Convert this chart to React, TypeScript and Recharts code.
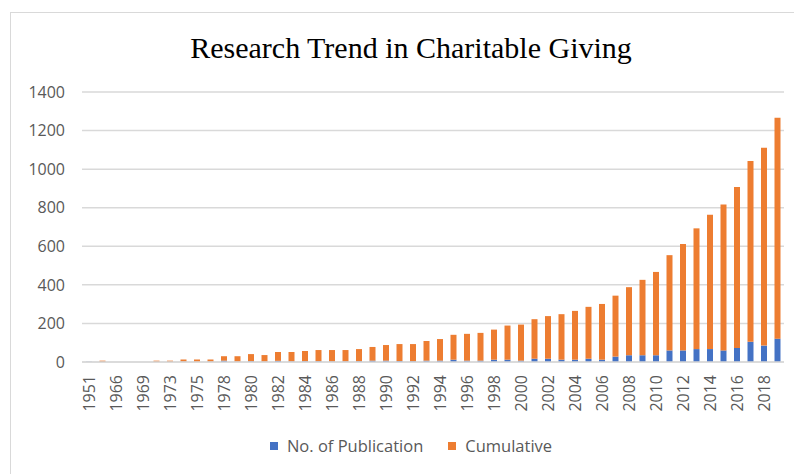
import React from 'react'
import { BarChart, Bar, XAxis, YAxis, CartesianGrid, Legend } from 'recharts'

// years on the category axis (every other one gets a label)
const years = [
  '1951', '1965', '1966', '1968', '1969', '1972', '1973', '1974', '1975', '1977',
  '1978', '1979', '1980', '1981', '1982', '1983', '1984', '1985', '1986', '1987',
  '1988', '1989', '1990', '1991', '1992', '1993', '1994', '1995', '1996', '1997',
  '1998', '1999', '2000', '2001', '2002', '2003', '2004', '2005', '2006', '2007',
  '2008', '2009', '2010', '2011', '2012', '2013', '2014', '2015', '2016', '2017',
  '2018', '2019',
]

const publications = [
  1, 1, 0, 0, 0, 1, 1, 2, 1, 2,
  7, 2, 4, 2, 6, 3, 4, 4, 3, 3,
  4, 7, 7, 5, 4, 7, 7, 12, 7, 7,
  12, 12, 7, 17, 17, 12, 12, 17, 12, 28,
  35, 35, 35, 60, 60, 67, 67, 60, 73, 105,
  85, 121,
]

const cumulative = [
  0, 6, 0, 0, 0, 6, 6, 11, 12, 11,
  23, 28, 37, 34, 46, 49, 53, 58, 59, 59,
  63, 71, 81, 88, 89, 102, 112, 129, 139, 144,
  156, 177, 187, 205, 221, 236, 253, 269, 289, 316,
  353, 391, 432, 494, 552, 626, 696, 757, 835, 937,
  1026, 1146,
]

const yTicks = [0, 200, 400, 600, 800, 1000, 1200, 1400]
const legendOrder = ['No. of Publication', 'Cumulative']

const data = years.map((year, i) => ({
  year,
  publications: publications[i],
  cumulative: cumulative[i],
}))

const textColor = '#595959'
const gridColor = '#d9d9d9'
const font = '"Open Sans", sans-serif'

const XTick = ({ x, y, payload }: any) => (
  <text
    x={x}
    y={y}
    transform={`rotate(-90 ${x} ${y})`}
    textAnchor="end"
    dominantBaseline="central"
    fill={textColor}
    fontSize={16}
    fontFamily={font}
  >
    {payload.value}
  </text>
)

// legend items in the same order as the reference (blue first)
const LegendContent = ({ payload }: any) => {
  const items = [...(payload || [])].sort(
    (a: any, b: any) => legendOrder.indexOf(a.value) - legendOrder.indexOf(b.value)
  )
  return (
    <div style={{ display: 'flex', justifyContent: 'center', gap: 25, fontFamily: font, fontSize: 16.5, color: textColor }}>
      {items.map((entry: any) => (
        <div key={entry.value} style={{ display: 'flex', alignItems: 'center' }}>
          <span style={{ width: 8, height: 8, background: entry.color, marginRight: 9, display: 'inline-block' }} />
          {entry.value}
        </div>
      ))}
    </div>
  )
}

export default function App() {
  return (
    <div style={{ position: 'absolute', left: 0, top: 0, width: 794, height: 474, overflow: 'hidden', background: '#fff' }}>
      <div
        style={{
          position: 'absolute', left: 10, top: 12, width: 820, height: 500,
          border: `1px solid ${gridColor}`, boxSizing: 'border-box',
        }}
      />
      <div
        style={{
          position: 'absolute', left: 10, top: 33, width: 802, textAlign: 'center',
          fontFamily: '"Liberation Serif", serif', fontSize: 30, lineHeight: '30px', color: '#000',
        }}
      >
        Research Trend in Charitable Giving
      </div>
      <div style={{ position: 'absolute', left: 0, top: 0 }}>
        <BarChart width={794} height={474} data={data} margin={{ top: 92, right: 10, left: 0, bottom: 17 }} barSize={6}>
          <CartesianGrid vertical={false} stroke={gridColor} strokeWidth={1.5} />
          <XAxis
            dataKey="year"
            interval={1}
            tick={<XTick />}
            tickLine={false}
            tickSize={0}
            tickMargin={13}
            height={72}
            axisLine={{ stroke: gridColor, strokeWidth: 1.5 }}
          />
          <YAxis
            domain={[0, 1400]}
            ticks={yTicks}
            width={82}
            axisLine={false}
            tickLine={false}
            tickSize={0}
            tickMargin={17}
            tick={{ fill: textColor, fontSize: 16, fontFamily: font }}
          />
          <Legend
            verticalAlign="bottom"
            content={<LegendContent />}
            wrapperStyle={{ left: 20, width: 782 }}
          />
          <Bar dataKey="publications" name="No. of Publication" stackId="a" fill="#4472c4" isAnimationActive={false} />
          <Bar dataKey="cumulative" name="Cumulative" stackId="a" fill="#ed7d31" isAnimationActive={false} />
        </BarChart>
      </div>
    </div>
  )
}
